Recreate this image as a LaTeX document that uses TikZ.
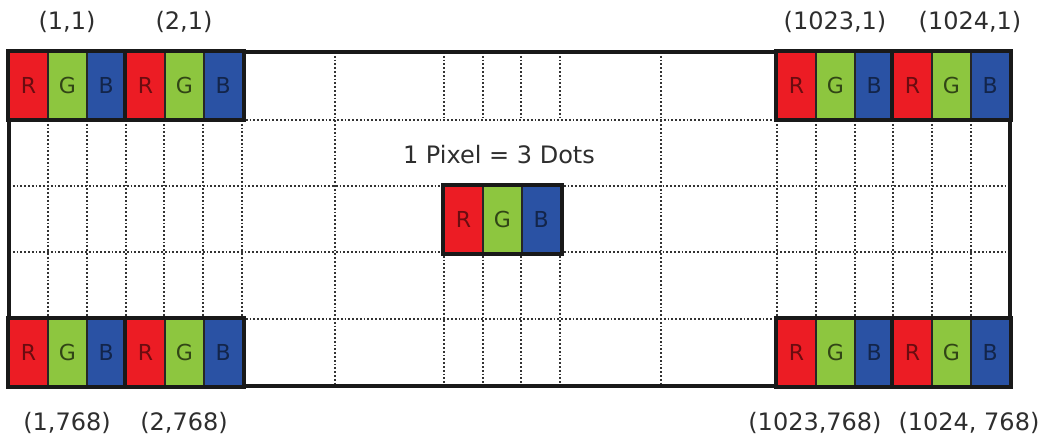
\documentclass[tikz,border=0pt]{standalone}
\usepackage{fontspec}
\setmainfont{DejaVu Sans}
\usetikzlibrary{positioning}
\definecolor{dotR}{HTML}{EC1C24}
\definecolor{dotG}{HTML}{8DC63F}
\definecolor{dotB}{HTML}{2A52A4}
\definecolor{ink}{HTML}{2E2E2E}

\begin{document}
\begin{tikzpicture}[x=0.5pt,y=-0.5pt,
  gridline/.style={densely dotted,line width=0.9pt,black!80},
  frame/.style={line width=2pt,black!90},
  dotbox/.style={draw=black!85,line width=0.9pt,minimum width=19.45pt,minimum height=33.5pt,
    inner sep=0pt,font=\fontsize{11}{13}\selectfont},
  coord/.style={text=ink,font=\fontsize{12}{14}\selectfont}]
\useasboundingbox (0,0) rectangle (1044,439);
% dotted grid
\draw[gridline] (242,120)--(777,120) (9,186)--(1010,186) (9,252)--(1010,252) (242,319)--(777,319);
\foreach \gx in {48,87,126,164,203,242,777,816,855,893,932,971}
  \draw[gridline] (\gx,120)--(\gx,319);
\foreach \gx in {335,661}
  \draw[gridline] (\gx,52)--(\gx,386);
\foreach \gx in {444,483,521,560}
  \draw[gridline] (\gx,52)--(\gx,120) (\gx,252)--(\gx,386);
% panel outline
\draw[frame] (9,52) rectangle (1010,386);
% pixels of three dots
\foreach \px/\py/\nm in {9/52/tla,126/52/tlb,777/52/tra,893/52/trb,9/319/bla,126/319/blb,777/319/bra,893/319/brb,444/186/mid}{
  \node[dotbox,fill=dotR,text=dotR!45!black] (\nm R) at (\px+19.45,\py+33.5) {R};
  \node[dotbox,fill=dotG,text=dotG!35!black] (\nm G) at (\px+58.35,\py+33.5) {G};
  \node[dotbox,fill=dotB,text=dotB!45!black] (\nm B) at (\px+97.25,\py+33.5) {B};
  \draw[frame] (\nm R.north west) rectangle (\nm B.south east);
}
\node[coord] (cap) at (499,155) {1 Pixel = 3 Dots};
% pixel addresses
\node[coord] (ltop1) at (67,22) {(1,1)};
\node[coord] (ltop2) at (184,22) {(2,1)};
\node[coord] (rtop1) at (835,22) {(1023,1)};
\node[coord] (rtop2) at (970,22) {(1024,1)};
\node[coord] (lbot1) at (67,423) {(1,768)};
\node[coord] (lbot2) at (184,423) {(2,768)};
\node[coord] (rbot1) at (815,423) {(1023,768)};
\node[coord] (rbot2) at (969,423) {(1024, 768)};
\end{tikzpicture}
\end{document}
